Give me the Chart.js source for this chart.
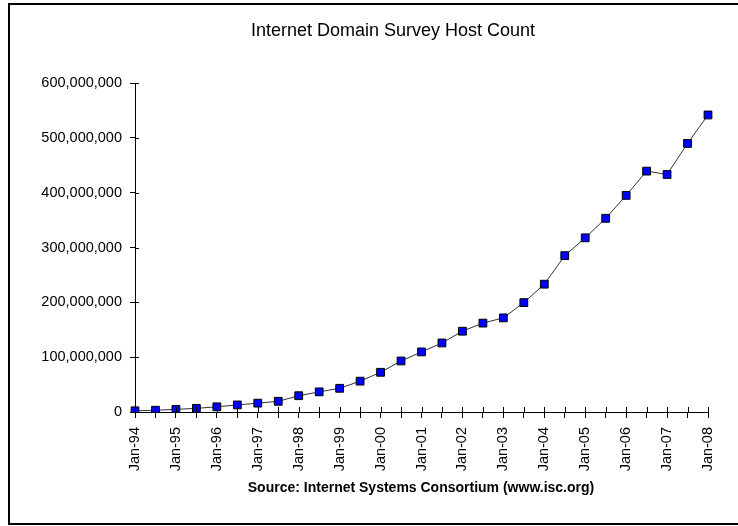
<!DOCTYPE html>
<html>
<head>
<meta charset="utf-8">
<title>Internet Domain Survey Host Count</title>
<script src="https://cdn.jsdelivr.net/npm/chart.js"></script>
<style>
    html, body { margin: 0; padding: 0; background: #fff; }
    #wrap { width: 738px; height: 526px; }
</style>
</head>
<body>
<div id="wrap"><canvas id="host-chart" width="738" height="526"></canvas></div>
<script>
// ===== DATA =====
const surveyLabels = [
    'Jan-94', 'Jul-94', 'Jan-95', 'Jul-95', 'Jan-96', 'Jul-96', 'Jan-97', 'Jul-97',
    'Jan-98', 'Jul-98', 'Jan-99', 'Jul-99', 'Jan-00', 'Jul-00', 'Jan-01', 'Jul-01',
    'Jan-02', 'Jul-02', 'Jan-03', 'Jul-03', 'Jan-04', 'Jul-04', 'Jan-05', 'Jul-05',
    'Jan-06', 'Jul-06', 'Jan-07', 'Jul-07', 'Jan-08'
];

const hostCounts = [
    2200000, 3200000, 4850000, 6640000, 9470000, 12880000, 16150000, 19540000,
    29670000, 36740000, 43230000, 56220000, 72400000, 93050000, 109570000, 125890000,
    147340000, 162130000, 171640000, 199500000, 233100000, 285140000, 317650000, 353280000,
    394990000, 439290000, 433190000, 489770000, 541680000
];

const yTicks = [0, 100000000, 200000000, 300000000, 400000000, 500000000, 600000000];

const chartTitle = 'Internet Domain Survey Host Count';
const sourceNote = 'Source: Internet Systems Consortium (www.isc.org)';

// ===== DECORATION PLUGIN =====
const FONT = '"Liberation Sans", Arial, sans-serif';

const framePlugin = {
    id: 'frame',
    afterDraw(chart) {
        const ctx = chart.ctx;
        const area = chart.chartArea;
        const xs = chart.scales.x;
        const ys = chart.scales.y;

        ctx.save();
        // outer border (right edge runs off the picture)
        ctx.strokeStyle = '#000';
        ctx.lineWidth = 2;
        ctx.strokeRect(9, 4, 760, 520);

        // inner half of the tick marks (they cross the axes)
        ctx.lineWidth = 1;
        ctx.beginPath();
        ys.ticks.forEach((t, i) => {
            const y = Math.round(ys.getPixelForTick(i)) + 0.5;
            ctx.moveTo(area.left, y);
            ctx.lineTo(area.left + 4, y);
        });
        xs.ticks.forEach((t, i) => {
            const x = Math.round(xs.getPixelForTick(i)) + 0.5;
            ctx.moveTo(x, area.bottom);
            ctx.lineTo(x, area.bottom - 5);
        });
        ctx.stroke();

        // title
        ctx.fillStyle = '#000';
        ctx.textAlign = 'center';
        ctx.textBaseline = 'middle';
        ctx.font = '18px ' + FONT;
        ctx.fillText(chartTitle, 393, 31);

        // source line
        ctx.font = 'bold 14px ' + FONT;
        ctx.fillText(sourceNote, 421, 488);
        ctx.restore();
    }
};

// ===== CHART =====
const ctx = document.getElementById('host-chart').getContext('2d');

const hostChart = new Chart(ctx, {
    type: 'line',
    data: {
        labels: surveyLabels,
        datasets: [{
            label: 'Hosts',
            data: hostCounts,
            borderColor: '#333',
            borderWidth: 1,
            tension: 0,
            pointStyle: 'rect',
            pointRadius: 5.5,
            pointHoverRadius: 5.5,
            pointBackgroundColor: '#0000ff',
            pointBorderColor: '#000',
            pointBorderWidth: 1
        }]
    },
    options: {
        responsive: false,
        animation: false,
        devicePixelRatio: 1,
        layout: {
            padding: { top: 83, right: 30, bottom: 0, left: 0 }
        },
        plugins: {
            legend: { display: false },
            title: { display: false },
            tooltip: { enabled: false }
        },
        scales: {
            x: {
                type: 'category',
                afterFit: (scale) => { scale.height = 114; },
                grid: {
                    display: true,
                    drawOnChartArea: false,
                    color: '#000',
                    tickLength: 6,
                    tickWidth: 1
                },
                border: { color: '#000', width: 1 },
                ticks: {
                    autoSkip: false,
                    minRotation: 90,
                    maxRotation: 90,
                    padding: 9,
                    color: '#000',
                    font: { family: FONT, size: 14.5 },
                    callback: (value, index) => index % 2 === 0 ? surveyLabels[index] : ''
                }
            },
            y: {
                min: 0,
                max: 600000000,
                afterFit: (scale) => { scale.width = 135; },
                afterBuildTicks: (scale) => {
                    scale.ticks = yTicks.map(v => ({ value: v }));
                },
                grid: {
                    display: true,
                    drawOnChartArea: false,
                    color: '#000',
                    tickLength: 5,
                    tickWidth: 1
                },
                border: { color: '#000', width: 1 },
                ticks: {
                    padding: 8,
                    color: '#000',
                    font: { family: FONT, size: 14.5 },
                    callback: (value) => value.toLocaleString('en-US')
                }
            }
        }
    },
    plugins: [framePlugin]
});
</script>
</body>
</html>
